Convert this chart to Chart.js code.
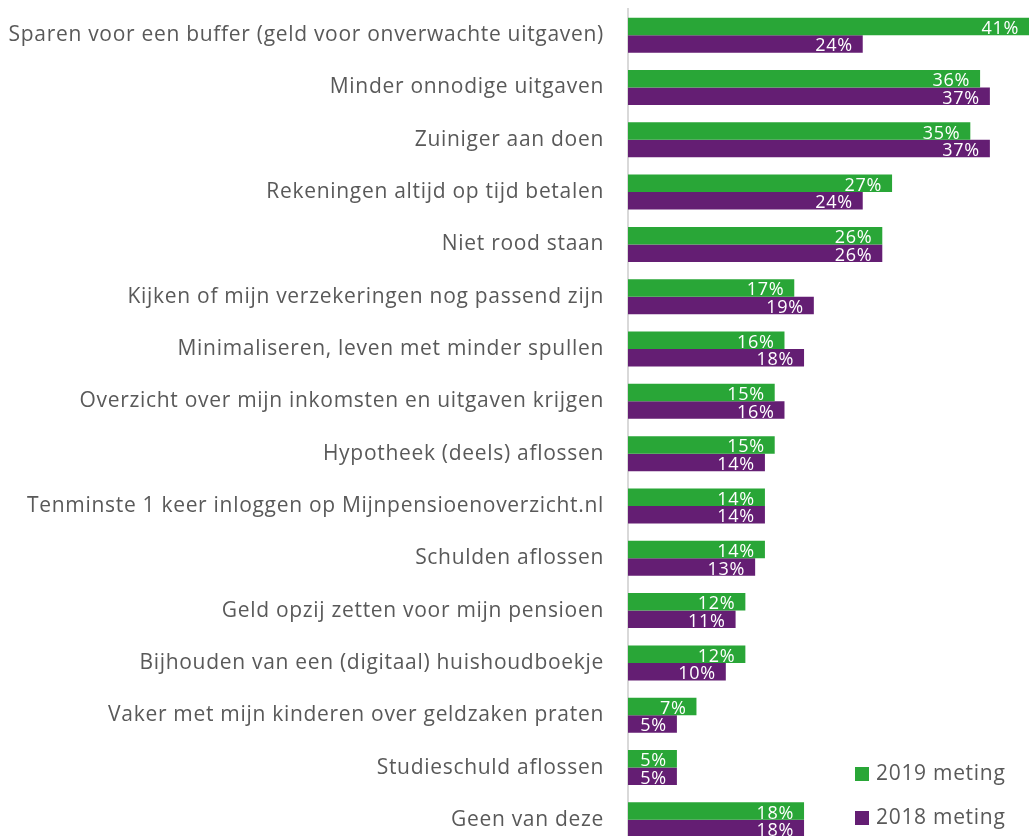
<!DOCTYPE html>
<html>
<head>
<meta charset="utf-8">
<script src="https://cdn.jsdelivr.net/npm/chart.js@4.4.1/dist/chart.umd.min.js"></script>
<style>
  html, body { margin: 0; padding: 0; background: #fff; overflow: hidden; }
  #wrap { position: relative; width: 1029px; height: 846px; }
</style>
</head>
<body>
<div id="wrap"><canvas id="chart"></canvas></div>
<script>
const categories = [
    'Sparen voor een buffer (geld voor onverwachte uitgaven)',
    'Minder onnodige uitgaven',
    'Zuiniger aan doen',
    'Rekeningen altijd op tijd betalen',
    'Niet rood staan',
    'Kijken of mijn verzekeringen nog passend zijn',
    'Minimaliseren, leven met minder spullen',
    'Overzicht over mijn inkomsten en uitgaven krijgen',
    'Hypotheek (deels) aflossen',
    'Tenminste 1 keer inloggen op Mijnpensioenoverzicht.nl',
    'Schulden aflossen',
    'Geld opzij zetten voor mijn pensioen',
    'Bijhouden van een (digitaal) huishoudboekje',
    'Vaker met mijn kinderen over geldzaken praten',
    'Studieschuld aflossen',
    'Geen van deze'
];
const meting2019 = [41, 36, 35, 27, 26, 17, 16, 15, 15, 14, 14, 12, 12, 7, 5, 18];
const meting2018 = [24, 37, 37, 24, 26, 19, 18, 16, 14, 14, 13, 11, 10, 5, 5, 18];

const FONT = '"Open Sans", Lato, sans-serif';
const GREEN = '#29a637';
const PURPLE = '#641e73';
const SPACING = '0.7px';

// the original text is set a little wider than Open Sans
const wideText = {
    id: 'wideText',
    beforeLayout(chart) { chart.ctx.letterSpacing = SPACING; },
    beforeDraw(chart) { chart.ctx.letterSpacing = SPACING; }
};

// white value labels just inside the end of each bar
const barLabels = {
    id: 'barLabels',
    afterDatasetsDraw(chart) {
        const ctx = chart.ctx;
        ctx.save();
        ctx.font = '18px ' + FONT;
        ctx.fillStyle = '#fff';
        ctx.textAlign = 'right';
        ctx.textBaseline = 'alphabetic';
        chart.data.datasets.forEach((ds, i) => {
            chart.getDatasetMeta(i).data.forEach((bar, j) => {
                ctx.fillText(ds.data[j] + '%', bar.x - 10, bar.y + 7.5);
            });
        });
        ctx.restore();
    }
};

// legend in the lower right corner
const cornerLegend = {
    id: 'cornerLegend',
    afterDraw(chart) {
        const ctx = chart.ctx;
        ctx.save();
        ctx.font = '21px ' + FONT;
        ctx.textBaseline = 'middle';
        chart.data.datasets.forEach((ds, i) => {
            const y = 774 + i * 44;
            ctx.fillStyle = ds.backgroundColor;
            ctx.fillRect(855, y - 7, 14, 14);
            ctx.fillStyle = '#595959';
            ctx.fillText(ds.label, 876, y);
        });
        ctx.restore();
    }
};

new Chart(document.getElementById('chart'), {
    type: 'bar',
    data: {
        labels: categories,
        datasets: [
            { label: '2019 meting', data: meting2019, backgroundColor: GREEN },
            { label: '2018 meting', data: meting2018, backgroundColor: PURPLE }
        ]
    },
    options: {
        indexAxis: 'y',
        responsive: true,
        maintainAspectRatio: false,
        animation: false,
        layout: { padding: { top: 9, right: 0, bottom: 0, left: 0 } },
        datasets: { bar: { categoryPercentage: 0.67, barPercentage: 1 } },
        scales: {
            x: { display: false, min: 0, max: 41 },
            y: {
                afterFit(scale) {
                    scale.width = 628;
                    scale.paddingTop = 0;
                    scale.paddingBottom = 0;
                },
                grid: { display: false, drawTicks: false },
                border: { display: true, color: '#d9d9d9', width: 2 },
                ticks: { color: '#595959', font: { family: FONT, size: 21 }, padding: 24 }
            }
        },
        plugins: {
            legend: { display: false },
            tooltip: { enabled: false }
        }
    },
    plugins: [wideText, barLabels, cornerLegend]
});
</script>
</body>
</html>
